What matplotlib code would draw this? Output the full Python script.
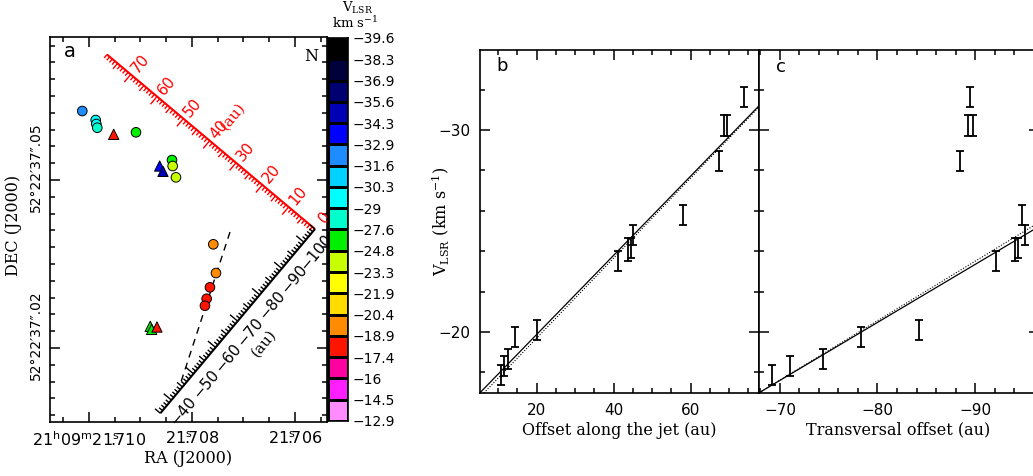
import numpy as np
import matplotlib
matplotlib.use("Agg")
import matplotlib.pyplot as plt
from matplotlib.colors import ListedColormap, BoundaryNorm
from matplotlib.ticker import MultipleLocator, FixedLocator
from matplotlib.collections import LineCollection
from matplotlib.transforms import ScaledTranslation

# ------------------------------------------------------------------ data
# Panel a : maser spots (RA seconds of 21h09m, Dec arcsec of +52d22')
circ_ra = [21.710130, 21.709870, 21.709858, 21.709839, 21.709087, 21.708388,
           21.708375, 21.708311, 21.707586, 21.707534, 21.707651, 21.707715, 21.707748]
circ_dec = [37.06232, 37.06071, 37.06000, 37.05934, 37.05852, 37.05357,
            37.05250, 37.05048, 37.03852, 37.03339, 37.03084, 37.02880, 37.02755]
circ_vel = [-31.65, -30.2, -30.25, -28.5, -25.8, -24.9, -24.1, -23.5,
            -20.1, -19.75, -18.67, -18.33, -17.86]
tri_ra = [21.709520, 21.708627, 21.708563, 21.708810, 21.708783, 21.708680]
tri_dec = [37.05816, 37.05250, 37.05155, 37.02387, 37.02334, 37.02375]
tri_vel = [-18.0, -33.6, -34.9, -25.5, -26.0, -18.2]

jet_ra = [21.707262, 21.708233]          # dashed jet axis
jet_dec = [37.04071, 37.01339]

ruler_corner_ra = 21.705612              # common corner of the two scale bars
ruler_corner_dec = 37.04125
distance_pc = 1630.0
pa_jet = 50.0
pa_trans = 140.0
jet_range = [0, 79]                      # au along the jet
jet_labels = [0, 10, 20, 30, 40, 50, 60, 70]
trans_range = [-105, -35]                # au transversal
trans_labels = [-100, -90, -80, -70, -60, -50, -40]

ra_ticks = [21.710, 21.708, 21.706]
ra_ticklabels = [r"21$^{\rm h}$09$^{\rm m}$21$^{\rm s}\!\!\!$.710",
                 r"21$^{\rm s}\!\!\!$.708", r"21$^{\rm s}\!\!\!$.706"]
dec_ticks = [37.02, 37.05]
dec_ticklabels = ["52°22′37″.02", "52°22′37″.05"]

cbar_levels = [-39.6, -38.3, -36.9, -35.6, -34.3, -32.9, -31.6, -30.3, -29, -27.6,
               -24.8, -23.3, -21.9, -20.4, -18.9, -17.4, -16, -14.5, -12.9]
cbar_colors = ["#000000", "#00003a", "#000070", "#0000b4", "#0000ff", "#1e8cff",
               "#00d2ff", "#00ffff", "#00ffcc", "#00ee00", "#c8ff00", "#ffff00",
               "#ffdc00", "#ff8c00", "#ff1400", "#ff00a0", "#ff1eff", "#ff8cff"]

# Panels b, c : velocity vs offsets
along_off = [73.8, 68.7, 69.3, 67.4, 58.1, 44.9, 43.8, 44.4, 41.0, 20.2, 14.4, 12.6, 11.6, 10.7]
trans_off = [-89.5, -89.3, -89.8, -88.5, -94.8, -95.1, -94.1, -94.4, -92.1, -84.3,
             -78.3, -74.4, -71.0, -69.15]
vlsr = [-31.65, -30.22, -30.22, -28.48, -25.81, -24.82, -24.08, -24.15, -23.5,
        -20.1, -19.75, -18.67, -18.33, -17.86]
vlsr_err = [0.5, 0.52, 0.52, 0.5, 0.5, 0.5, 0.55, 0.5, 0.5, 0.5, 0.5, 0.5, 0.5, 0.5]

fit_b_solid = (-0.196, -15.96)    # slope, intercept
fit_b_dotted = (-0.198, -15.74)
fit_c_solid = (0.2868, 2.47)
fit_c_dotted = (0.294, 2.96)

# ------------------------------------------------------------------ figure
W, H = 1033, 476
fig = plt.figure(figsize=(W / 100, H / 100), dpi=100)

def px_axes(l, r, t, b):
    return fig.add_axes([l / W, (H - b) / H, (r - l) / W, (b - t) / H])

NUMFONT = dict(family="DejaVu Sans", size=11)
SERIF = "DejaVu Serif"

cmap = ListedColormap(cbar_colors)
norm = BoundaryNorm(cbar_levels, cmap.N)

def style_axis(ax):
    for s in ax.spines.values():
        s.set_linewidth(1.2)
    ax.tick_params(which="both", direction="in", top=True, right=True, width=1.1)
    ax.tick_params(which="major", length=7.5)
    ax.tick_params(which="minor", length=3.8)

# ------------------------------------------------------------------ panel a
axa = px_axes(50, 327, 37, 422)
axa.set_xlim(21.710757, 21.705378)
axa.set_ylim(37.00679, 37.07554)
style_axis(axa)
axa.xaxis.set_major_locator(FixedLocator(ra_ticks))
axa.xaxis.set_minor_locator(MultipleLocator(0.0005))
axa.yaxis.set_major_locator(FixedLocator(dec_ticks))
axa.yaxis.set_minor_locator(MultipleLocator(0.003))
axa.set_xticklabels(ra_ticklabels, fontsize=11.5, math_fontfamily="dejavusans")
axa.set_yticklabels(dec_ticklabels, rotation=90, va="center", fontsize=10)
axa.tick_params(axis="x", pad=6)
axa.tick_params(axis="y", pad=5)
for lab in axa.get_yticklabels():
    lab.set_transform(lab.get_transform() + ScaledTranslation(0, 0.13, fig.dpi_scale_trans))

axa.plot(jet_ra, jet_dec, ls=(0, (5, 4)), color="k", lw=1.0)
axa.scatter(tri_ra, tri_dec, c=tri_vel, cmap=cmap, norm=norm, marker="^", s=55,
            edgecolors="k", linewidths=0.7, zorder=3)
axa.scatter(circ_ra, circ_dec, c=circ_vel, cmap=cmap, norm=norm, marker="o", s=48,
            edgecolors="k", linewidths=0.7, zorder=3)

axa.text(0.072, 0.962, "a", transform=axa.transAxes, fontsize=14, ha="center", va="center")
axa.text(0.942, 0.950, "N", transform=axa.transAxes, fontsize=11.5, family=SERIF,
         ha="center", va="center")
axa.text(0.5, -0.094, "RA (J2000)", transform=axa.transAxes, fontsize=11.5,
         family=SERIF, ha="center", va="center")
axa.text(-0.130, 0.51, "DEC (J2000)", transform=axa.transAxes, fontsize=11.5,
         family=SERIF, ha="center", va="center", rotation=90)

# scale bars (drawn in display space from data anchor)
fig.canvas.draw()
tD = axa.transData
inv = tD.inverted()
p0 = tD.transform((ruler_corner_ra, ruler_corner_dec))
p1 = tD.transform((ruler_corner_ra, ruler_corner_dec + 0.01))
px_per_au = (p1[1] - p0[1]) / 0.01 / distance_pc

def pa_vec(pa):
    r = np.deg2rad(pa)
    return np.array([-np.sin(r), np.cos(r)])

def draw_ruler(v0, v1, vcorner, pa, tick_pa, label_pa, labels, color, lab_off,
               unit_pos, unit_off):
    d = pa_vec(pa)
    td = pa_vec(tick_pa)
    ld = pa_vec(label_pa)
    P = lambda v: p0 + (v - vcorner) * px_per_au * d
    a, b = inv.transform([P(v0), P(v1)])
    axa.plot([a[0], b[0]], [a[1], b[1]], color=color, lw=1.5, clip_on=False,
             solid_capstyle="butt")
    segs = []
    for v in range(int(np.ceil(v0)), int(np.floor(v1)) + 1):
        L = 10.0 if v % 10 == 0 else (7.0 if v % 5 == 0 else 4.5)
        q0 = P(v)
        q1 = q0 + L * td
        segs.append(inv.transform([q0, q1]))
    axa.add_collection(LineCollection(segs, colors=color, linewidths=1.0, clip_on=False))
    for v in labels:
        q = inv.transform(P(v) + lab_off * ld)
        txt = "\u2212" + str(abs(v)) if v < 0 else str(v)
        axa.text(q[0], q[1], txt, color=color, rotation=50, rotation_mode="anchor",
                 ha="center", va="center", fontsize=11, clip_on=False)
    q = inv.transform(P(unit_pos) + unit_off * ld)
    axa.text(q[0], q[1], "(au)", color=color, rotation=50, rotation_mode="anchor",
             ha="center", va="center", fontsize=11, family=SERIF, clip_on=False)

draw_ruler(jet_range[0], jet_range[1], 0.0, pa_jet, pa_trans, pa_trans + 180,
           jet_labels, "red", 14.5, 39.5, 34)
draw_ruler(trans_range[0], trans_range[1], trans_range[0], pa_trans, pa_jet,
           pa_jet + 180, trans_labels, "black", 16, -70, 33.5)

# ------------------------------------------------------------------ colour bar
cax = px_axes(328, 348, 38, 421)
cax.pcolormesh([0, 1], np.arange(len(cbar_levels)),
               np.arange(len(cbar_colors)).reshape(-1, 1), cmap=cmap,
               edgecolors="k", linewidth=0.9)
cax.set_xlim(0, 1)
cax.set_ylim(len(cbar_levels) - 1, 0)
cax.set_xticks([])
cax.yaxis.tick_right()
cax.set_yticks(np.arange(len(cbar_levels)))
cax.set_yticklabels([("\u2212" + f"{abs(v):g}") for v in cbar_levels], fontsize=10)
cax.tick_params(axis="y", length=0, pad=3)
for s in cax.spines.values():
    s.set_linewidth(1.2)
fig.text(358 / W, (H - 8) / H, r"V$_{\rm LSR}$", fontsize=9.5, family=SERIF,
         math_fontfamily="dejavuserif", ha="center", va="center")
fig.text(355 / W, (H - 23) / H, r"km s$^{-1}$", fontsize=9.5, family=SERIF,
         math_fontfamily="dejavuserif", ha="center", va="center")

# ------------------------------------------------------------------ panels b & c
ylim = (-16.98, -33.96)

axb = px_axes(480, 759, 50, 393)
axc = px_axes(759, 1039, 50, 393)
for ax in (axb, axc):
    style_axis(ax)
    ax.set_ylim(*ylim)
    ax.yaxis.set_major_locator(MultipleLocator(10))
    ax.yaxis.set_minor_locator(MultipleLocator(2))

axb.set_xlim(5.27, 77.74)
axb.xaxis.set_major_locator(MultipleLocator(20))
axb.xaxis.set_minor_locator(MultipleLocator(5))
axc.set_xlim(-67.85, -96.56)
axc.xaxis.set_major_locator(MultipleLocator(10))
axc.xaxis.set_minor_locator(MultipleLocator(2))

def minus_fmt(v):
    return ("\u2212" if v < 0 else "") + f"{abs(v):g}"

axb.set_yticks([-30, -20])
axb.set_yticklabels([minus_fmt(v) for v in [-30, -20]], **NUMFONT)
axb.set_xticks([20, 40, 60])
axb.set_xticklabels([minus_fmt(v) for v in [20, 40, 60]], **NUMFONT)
axc.set_yticks([-30, -20])
axc.set_yticklabels([])
axc.set_xticks([-70, -80, -90])
axc.set_xticklabels([minus_fmt(v) for v in [-70, -80, -90]], **NUMFONT)
for ax in (axb, axc):
    ax.tick_params(axis="x", pad=7)
    ax.tick_params(axis="y", pad=7)

ekw = dict(fmt="none", ecolor="k", elinewidth=1.3, capsize=3.0, capthick=1.3)
axb.errorbar(along_off, vlsr, yerr=vlsr_err, **ekw)
axc.errorbar(trans_off, vlsr, yerr=vlsr_err, **ekw)

for ax, fs, fd in ((axb, fit_b_solid, fit_b_dotted), (axc, fit_c_solid, fit_c_dotted)):
    xx = np.array(ax.get_xlim())
    ax.plot(xx, fs[0] * xx + fs[1], color="k", lw=0.9)
    ax.plot(xx, fd[0] * xx + fd[1], color="k", lw=0.8, ls=(0, (1, 1.5)))

axb.text(0.079, 0.952, "b", transform=axb.transAxes, fontsize=13, ha="center", va="center")
axc.text(0.078, 0.950, "c", transform=axc.transAxes, fontsize=13, ha="center", va="center")
axb.text(0.5, -0.108, "Offset along the jet (au)", transform=axb.transAxes,
         fontsize=11.5, family=SERIF, ha="center", va="center")
axc.text(0.497, -0.108, "Transversal offset (au)", transform=axc.transAxes,
         fontsize=11.5, family=SERIF, ha="center", va="center")
axb.text(-0.143, 0.5, r"V$_{\rm LSR}$ (km s$^{-1}$)", transform=axb.transAxes,
         fontsize=11.5, family=SERIF, math_fontfamily="dejavuserif",
         ha="center", va="center", rotation=90)

fig.savefig("out.png", dpi=100)
